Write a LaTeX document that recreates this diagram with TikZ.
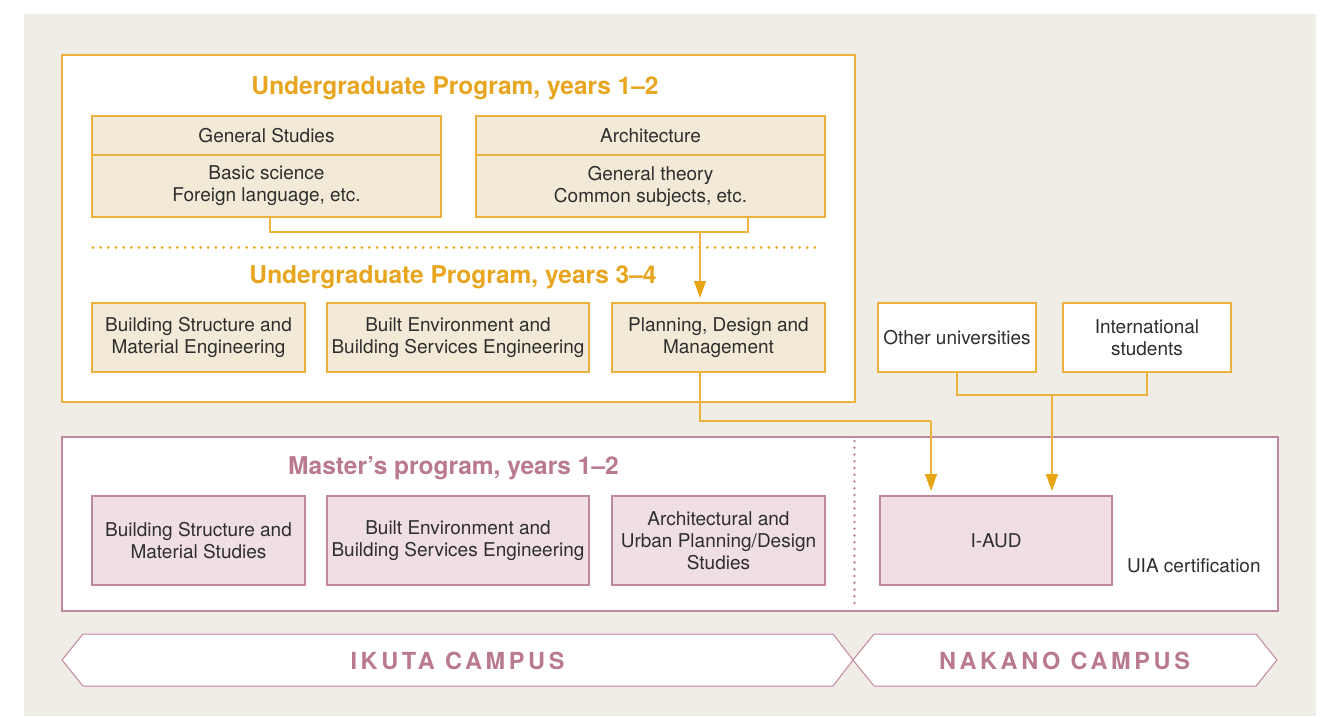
\documentclass[tikz,border=0pt]{standalone}
\usepackage{fontspec}
\setmainfont{TeX Gyre Heros}
\newfontfamily\campusfont[LetterSpace=15.5]{TeX Gyre Heros}
\usetikzlibrary{arrows.meta}
\definecolor{bgbeige}{HTML}{F0EDE6}
\definecolor{ostroke}{HTML}{EBB23E}
\definecolor{otitle}{HTML}{E8A520}
\definecolor{ofill}{HTML}{F2EAD7}
\definecolor{oarrowc}{HTML}{E5A514}
\definecolor{mstroke}{HTML}{C1879C}
\definecolor{mfill}{HTML}{EFDFE3}
\definecolor{mtitle}{HTML}{B9798F}
\definecolor{txt}{HTML}{2E2E2E}
\begin{document}
\begin{tikzpicture}[x=1pt,y=-1pt,
  every node/.style={inner sep=0pt, outer sep=0pt},
  bodyfont/.style={font=\fontsize{19}{22}\selectfont, text=txt, align=center},
  obox/.style={bodyfont, draw=ostroke, fill=ofill, line width=1.2pt},
  wbox/.style={bodyfont, draw=ostroke, fill=white, line width=1.2pt},
  mbox/.style={bodyfont, draw=mstroke, fill=mfill, line width=1.2pt},
  otitlestyle/.style={font=\fontsize{24.5}{28}\selectfont\bfseries, text=otitle},
  mtitlestyle/.style={font=\fontsize{24.5}{28}\selectfont\bfseries, text=mtitle},
  campus/.style={font=\campusfont\fontsize{23.5}{26}\selectfont\bfseries, text=mtitle},
  banner/.style={draw=mstroke, fill=white, line width=1pt},
  oline/.style={draw=ostroke, line width=1.2pt},
  oarrow/.style={draw=ostroke, line width=1.2pt, shorten >=5pt,
     -{Triangle[width=12pt,length=17pt,color=oarrowc]}}
]
\useasboundingbox (0,0) rectangle (1332,716);
\fill[bgbeige] (24,14) rectangle (1316,716);

% outer frames
\draw[ostroke, fill=white, line width=1.2pt] (62,55) rectangle (855,402);
\draw[mstroke, fill=white, line width=1.2pt] (62,437) rectangle (1278,611);

% titles
\node[otitlestyle] (t1) at (455,88) {Undergraduate Program, years 1–2};
\node[otitlestyle] (t2) at (453,277) {Undergraduate Program, years 3–4};
\node[mtitlestyle] (t3) at (453.5,468) {Master’s program, years 1–2};

% years 1-2 boxes
\node[obox, minimum width=349pt, minimum height=39pt] (gsh) at (266.5,135.5) {General Studies};
\node[obox, minimum width=349pt, minimum height=62pt] (gs) at (266.5,186) {Basic science\\Foreign language, etc.};
\node[obox, minimum width=349pt, minimum height=39pt] (archh) at (650.5,135.5) {Architecture};
\node[obox, minimum width=349pt, minimum height=62pt] (arch) at (650.5,186) {General theory\\Common subjects, etc.};

% dotted divider
\draw[otitle, line width=3pt, line cap=round, dash pattern=on 0pt off 7.68pt] (93,247.5) -- (822,247.5);

% years 3-4 boxes
\node[obox, minimum width=213pt, minimum height=69pt] (bse) at (198.5,337.5) {Building Structure and\\Material Engineering};
\node[obox, minimum width=262pt, minimum height=69pt] (bee) at (458,337.5) {Built Environment and\\Building Services Engineering};
\node[obox, minimum width=213pt, minimum height=69pt] (plan) at (718.5,337.5) {Planning, Design and\\Management};

% outside sources
\node[wbox, minimum width=158pt, minimum height=69pt] (ou) at (957,337.5) {Other universities};
\node[wbox, minimum width=168pt, minimum height=69pt] (intl) at (1147,337.5) {International\\students};

% master boxes
\node[mbox, minimum width=213pt, minimum height=89pt] (mbs) at (198.5,540.5) {Building Structure and\\Material Studies};
\node[mbox, minimum width=262pt, minimum height=89pt] (mbe) at (458,540.5) {Built Environment and\\Building Services Engineering};
\node[mbox, minimum width=213pt, minimum height=89pt] (mau) at (718.5,540.5) {Architectural and\\Urban Planning/Design\\Studies};
\node[mbox, minimum width=232pt, minimum height=89pt] (iaud) at (996,540.5) {I-AUD};
\node[bodyfont, anchor=west] (uia) at (1127,566) {UIA certification};

% dotted campus divider
\draw[mstroke, line width=2.8pt, line cap=round, dash pattern=on 0pt off 6.75pt] (854.5,441) -- (854.5,608);

% connectors
\coordinate (bar) at (700,232);
\coordinate (archx) at (748,0);
\coordinate (bend2) at (931,421);
\coordinate (bar2) at (1052,395);
\draw[oline] ([xshift=3.5pt]gs.south) |- (bar) -| (arch.south -| archx);
\draw[oarrow] (bar) -- (plan.north -| bar);
\draw[oline] (plan.south -| bar) |- (bend2);
\draw[oarrow] (bend2) -- (iaud.north -| bend2);
\draw[oline] (ou.south) |- (bar2) -| (intl.south);
\draw[oarrow] (bar2) -- (iaud.north -| bar2);

% campus banners
\draw[banner] (62,660) -- (83,634) -- (833,634) -- (853,660) -- (833,686) -- (83,686) -- cycle;
\draw[banner] (853,660) -- (874,634) -- (1256,634) -- (1277,660) -- (1256,686) -- (874,686) -- cycle;
\node[campus] (ikuta) at (457.5,660.5) {IKUTA CAMPUS};
\node[campus] (nakano) at (1064.5,660.5) {NAKANO CAMPUS};
\end{tikzpicture}
\end{document}
